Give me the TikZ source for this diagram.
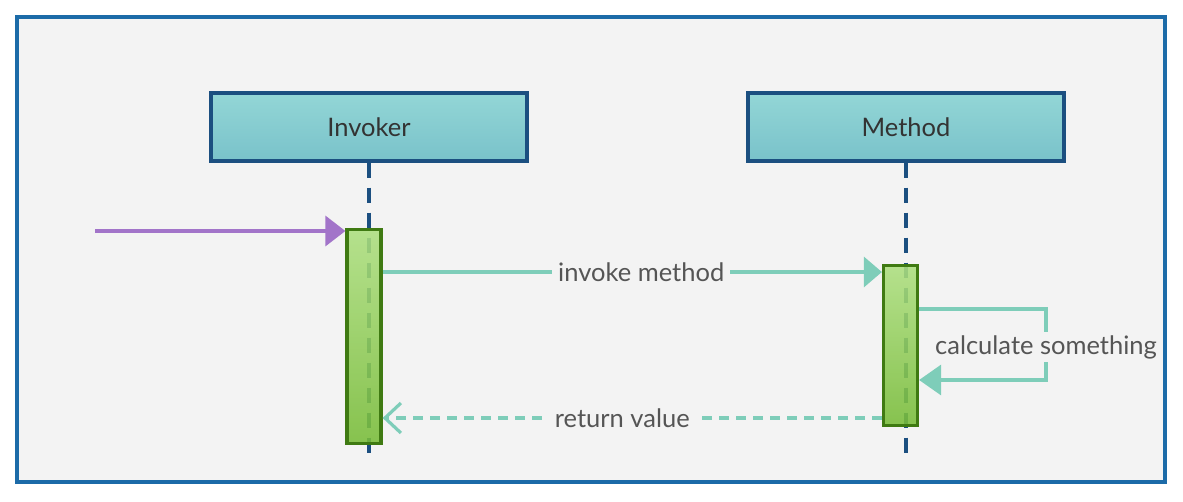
\documentclass[tikz,border=0pt]{standalone}
\usepackage{fontspec}
\setmainfont{Lato}
\usetikzlibrary{arrows.meta}
\definecolor{framec}{HTML}{1C6BA8}
\definecolor{bgc}{HTML}{F3F3F3}
\definecolor{boxborder}{HTML}{1B4F80}
\definecolor{boxtop}{HTML}{93D6D6}
\definecolor{boxbot}{HTML}{79C2CA}
\definecolor{actborder}{HTML}{3F7A12}
\definecolor{acttop}{HTML}{ADDF7F}
\definecolor{actbot}{HTML}{78BC38}
\definecolor{lifec}{HTML}{1B4F80}
\definecolor{purplec}{HTML}{A274C9}
\definecolor{tealc}{HTML}{7ECDB9}
\definecolor{textc}{HTML}{555555}
\tikzset{
  x=1pt, y=-1pt,
  participant/.style={draw=boxborder, line width=3.2pt, top color=boxtop, bottom color=boxbot, minimum width=316pt, minimum height=68pt, inner sep=0pt, font=\fontsize{25.5}{30}\selectfont, text=black!80},
  lifeline/.style={draw=lifec, line width=3.2pt, dash pattern=on 15pt off 10pt},
  activation/.style={draw=actborder, line width=3.2pt, top color=acttop, bottom color=actbot, fill opacity=0.88, inner sep=0pt},
  msg/.style={draw=tealc, line width=3.2pt},
  lbl/.style={fill=bgc, text=textc, font=\fontsize{25.5}{30}\selectfont, inner xsep=6pt, inner ysep=3pt},
}
\begin{document}
\begin{tikzpicture}
\useasboundingbox (0,0) rectangle (1183,501);
\fill[white] (0,0) rectangle (1183,501);
\draw[draw=framec, fill=bgc, line width=3.5pt] (17,17) rectangle (1165,482);

\node[participant] (inv) at (369,127) {Invoker};
\node[participant] (met) at (906,127) {Method};

\coordinate (invend) at (369,458);
\coordinate (metend) at (906,458);
\draw[lifeline] (inv.south) -- (invend);
\draw[lifeline] (met.south) -- (metend);

\node[activation, minimum width=34pt, minimum height=214pt] (actI) at (364,336.5) {};
\node[activation, minimum width=34pt, minimum height=160pt] (actM) at (900.5,345.5) {};

\coordinate (start) at (95,231);
\draw[draw=purplec, line width=3.2pt, -{Triangle[length=20pt,width=30pt]}] (start) -- (start -| actI.west);

\draw[msg, -{Triangle[length=18pt,width=30pt]}] (actI.east |- 0,272) -- (actM.west |- 0,272)
  node[lbl, pos=0.518] (l1) {invoke method};

\coordinate (s1) at (1046,309);
\coordinate (s2) at (1046,380);
\draw[msg, -{Triangle[length=22pt,width=30pt]}] (actM.east |- s1) -- (s1) -- (s2) -- (actM.east |- s2);
\node[lbl] (l2) at (1046,347) {calculate something};

\draw[msg, dash pattern=on 10pt off 7pt, -{Straight Barb[length=16pt,width=30pt,line width=3.2pt]}] (actM.west |- 0,418) -- (actI.east |- 0,418)
  node[lbl, pos=0.52, solid] (l3) {return value};
\end{tikzpicture}
\end{document}
